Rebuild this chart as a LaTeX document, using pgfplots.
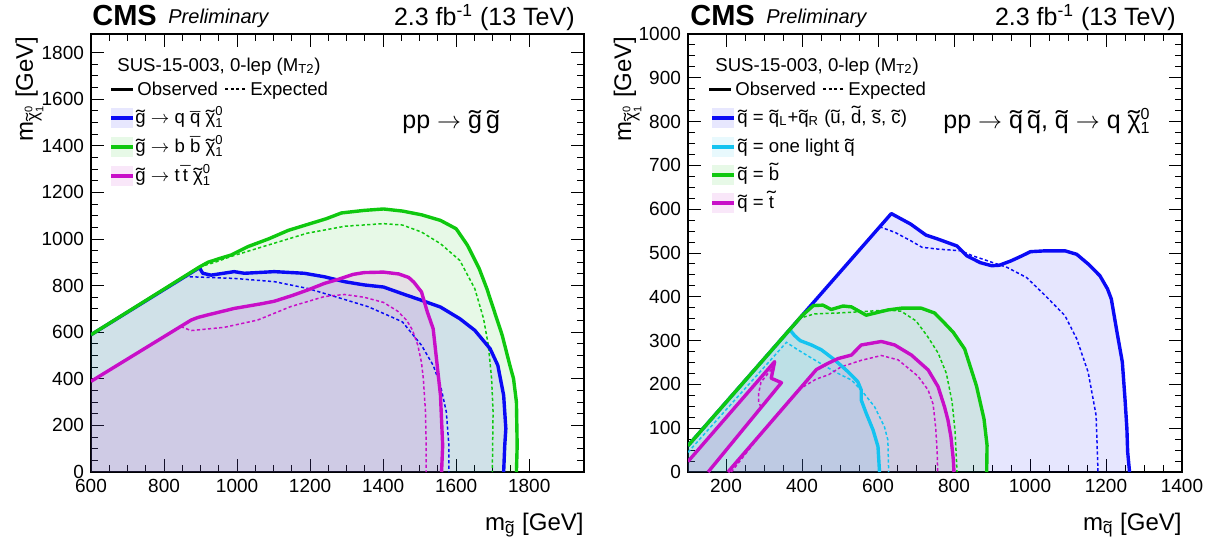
\documentclass[border=0pt]{standalone}
\usepackage{fontspec}
\setmainfont{Liberation Sans}
\usepackage{graphicx}
\usepackage{pgfplots}
\pgfplotsset{compat=1.18}
\definecolor{colB}{RGB}{10,10,245}
\definecolor{colG}{RGB}{15,200,15}
\definecolor{colM}{RGB}{200,15,200}
\definecolor{colC}{RGB}{20,195,240}
\newcommand\tg{\scalebox{1.45}[1]{\char"02DC}}
\newcommand\tl[1]{{\ooalign{#1\cr\hidewidth\tg\hidewidth\cr}}}
\newcommand\tlt[1]{{\ooalign{#1\cr\hidewidth\raisebox{0.2em}{\tg}\hidewidth\cr}}}
\newcommand\bq[1]{{\ooalign{#1\cr\hidewidth\raisebox{-0.12em}{\char"00AF}\hidewidth\cr}}}
\newcommand\bt[1]{{\ooalign{#1\cr\hidewidth\raisebox{0.1em}{\char"00AF}\hidewidth\cr}}}
\newcommand\ar{\ensuremath{\rightarrow}}
\newcommand\chiz[1]{\tl{χ}\ensuremath{^{\hbox{\fontsize{#1}{#1}\selectfont 0}}_{\hbox{\fontsize{#1}{#1}\selectfont 1}}}}
\newcommand\sbx[2]{\ensuremath{_{\hbox{\fontsize{#1}{#1}\selectfont #2}}}}
\pgfplotsset{cmsax/.style={scale only axis, ymin=0, tick align=inside,
  xtick pos=both, ytick pos=both, xticklabel pos=lower, yticklabel pos=left,
  major tick length=6.5pt, minor tick length=3.3pt,
  every tick/.append style={black, line width=0.5pt},
  axis line style={line width=0.8pt},
  tick label style={font=\fontsize{9.5}{9.5}\selectfont},
  /pgf/number format/assume math mode=true, /pgf/number format/1000 sep={},
  minor x tick num=3, minor y tick num=3, clip=true},
  obs/.style={line width=1.7pt, line join=round},
  exp/.style={line width=0.75pt, dash pattern=on 1.6pt off 1.2pt},
  fl/.style={draw=none, fill=#1, fill opacity=0.1}}
\begin{document}
\begin{tikzpicture}
\useasboundingbox (0,0) rectangle (603.5pt,274pt);
% ---------------- left panel ----------------
\begin{axis}[cmsax, at={(45.5pt,38pt)}, anchor=south west, width=246.5pt, height=219pt,
  xmin=600, xmax=1950, ymax=1880, xtick={600,800,...,1800}, ytick={0,200,...,1800}]
\addplot[fl=colG] coordinates {(600,589) (897,880) (920,900) (951,916) (983,931) (1029,967) (1087,1001) (1140,1037) (1192,1062) (1244,1087) (1286,1112) (1349,1123) (1401,1129) (1453,1120) (1505,1104) (1557,1080) (1600,1044) (1631,973) (1663,873) (1684,787) (1705,687) (1726,587) (1747,458) (1757,401) (1765,300) (1767,114) (1765,0)} \closedcycle;
\addplot[fl=colB] coordinates {(600,589) (897,877) (906,853) (929,845) (992,860) (1020,853) (1102,860) (1184,853) (1239,838) (1294,817) (1348,803) (1401,794) (1453,765) (1505,737) (1557,708) (1610,658) (1651,608) (1693,529) (1714,458) (1730,329) (1736,186) (1733,114) (1730,0)} \closedcycle;
\addplot[fl=colM] coordinates {(600,389) (874,652) (892,663) (919,674) (992,702) (1066,722) (1102,733) (1150,757) (1193,781) (1240,810) (1275,826) (1317,848) (1348,856) (1401,858) (1443,850) (1470,835) (1484,815) (1505,773) (1521,687) (1537,615) (1547,472) (1557,329) (1563,114) (1560,0)} \closedcycle;
% expected
\addplot[exp, colG] coordinates {(897,880) (941,901) (983,925) (1087,975) (1192,1025) (1296,1055) (1401,1066) (1453,1060) (1505,1030) (1557,980) (1610,908) (1651,787) (1675,658) (1688,544) (1697,401) (1701,258) (1699,0)};
\addplot[exp, colB] coordinates {(855,839) (992,831) (1102,817) (1193,788) (1285,745) (1358,710) (1421,667) (1453,644) (1505,544) (1537,458) (1557,372) (1573,258) (1580,114) (1580,0)};
\addplot[exp, colM] coordinates {(846,624) (874,607) (965,621) (1056,652) (1147,710) (1239,753) (1294,762) (1348,750) (1401,728) (1440,690) (1465,650) (1480,610) (1495,544) (1505,470) (1510,401) (1516,258) (1518,100) (1518,0)};
% observed
\addplot[obs, colB] coordinates {(600,589) (897,877) (906,853) (929,845) (992,860) (1020,853) (1102,860) (1184,853) (1239,838) (1294,817) (1348,803) (1401,794) (1453,765) (1505,737) (1557,708) (1610,658) (1651,608) (1693,529) (1714,458) (1730,329) (1736,186) (1733,114) (1730,0)};
\addplot[obs, colM] coordinates {(600,389) (874,652) (892,663) (919,674) (992,702) (1066,722) (1102,733) (1150,757) (1193,781) (1240,810) (1275,826) (1317,848) (1348,856) (1401,858) (1443,850) (1470,835) (1484,815) (1505,773) (1521,687) (1537,615) (1547,472) (1557,329) (1563,114) (1560,0)};
\addplot[obs, colG] coordinates {(600,589) (897,880) (920,900) (951,916) (983,931) (1029,967) (1087,1001) (1140,1037) (1192,1062) (1244,1087) (1286,1112) (1349,1123) (1401,1129) (1453,1120) (1505,1104) (1557,1080) (1600,1044) (1631,973) (1663,873) (1684,787) (1705,687) (1726,587) (1747,458) (1757,401) (1765,300) (1767,114) (1765,0)};
\end{axis}
% ---------------- right panel ----------------
\begin{axis}[cmsax, at={(344pt,38pt)}, anchor=south west, width=247pt, height=219pt,
  xmin=100, xmax=1400, ymax=1000, xtick={200,400,...,1400}, ytick={0,100,...,1000}]
\addplot[fl=colB] coordinates {(100,60) (635,590) (686,566) (726,541) (757,532) (808,516) (833,494) (869,478) (899,471) (919,472) (950,482) (980,494) (1001,503) (1041,505) (1092,505) (1123,497) (1153,475) (1184,448) (1204,418) (1214,395) (1229,319) (1243,251) (1250,167) (1255,99) (1257,46) (1262,0)} \closedcycle;
\addplot[fl=colG] coordinates {(100,60) (400,357) (430,380) (455,381) (477,371) (508,379) (530,377) (569,358) (626,370) (661,374) (714,374) (749,363) (775,340) (798,319) (828,281) (859,197) (879,121) (887,61) (886,0)} \closedcycle;
\addplot[fl=colC] coordinates {(100,60) (368,325) (380,312) (395,300) (425,290) (451,279) (486,256) (521,229) (547,206) (556,187) (556,164) (569,134) (587,96) (600,58) (604,0)} \closedcycle;
\addplot[fl=colM] coordinates {(100,24) (328,252) (319,214) (346,204) (153,0)} \closedcycle;
\addplot[fl=colM] coordinates {(205,0) (438,234) (468,248) (495,259) (530,267) (539,275) (556,290) (609,298) (644,290) (688,267) (732,233) (758,195) (775,149) (784,119) (792,80) (798,30) (800,0)} \closedcycle;
% expected
\addplot[exp, colB] coordinates {(604,560) (645,547) (686,528) (716,513) (757,509) (818,505) (848,494) (889,482) (940,467) (991,444) (1041,402) (1092,357) (1123,304) (1153,228) (1174,129) (1179,0)};
\addplot[exp, colG] coordinates {(390,350) (433,361) (495,363) (574,367) (626,370) (661,367) (700,345) (730,310) (758,272) (780,225) (795,160) (803,91) (808,0)};
\addplot[exp, colC] coordinates {(100,45) (359,296) (389,279) (433,256) (486,229) (530,210) (556,187) (591,149) (617,103) (626,73) (628,0)};
\addplot[exp, colM] coordinates {(214,0) (328,126) (389,187) (437,212) (470,222) (503,240) (556,255) (609,266) (653,256) (705,219) (732,187) (745,155) (752,100) (756,40) (757,0)};
\addplot[exp, colM] coordinates {(320,235) (292,205) (286,180) (286,160) (292,148)};
% observed
\addplot[obs, colB] coordinates {(100,60) (635,590) (686,566) (726,541) (757,532) (808,516) (833,494) (869,478) (899,471) (919,472) (950,482) (980,494) (1001,503) (1041,505) (1092,505) (1123,497) (1153,475) (1184,448) (1204,418) (1214,395) (1229,319) (1243,251) (1250,167) (1255,99) (1257,46) (1262,0)};
\addplot[obs, colC] coordinates {(100,60) (368,325) (380,312) (395,300) (425,290) (451,279) (486,256) (521,229) (547,206) (556,187) (556,164) (569,134) (587,96) (600,58) (604,0)};
\addplot[obs, colM] coordinates {(100,24) (328,252) (319,214) (346,204) (153,0)};
\addplot[obs, colM] coordinates {(205,0) (438,234) (468,248) (495,259) (530,267) (539,275) (556,290) (609,298) (644,290) (688,267) (732,233) (758,195) (775,149) (784,119) (792,80) (798,30) (800,0)};
\addplot[obs, colG] coordinates {(100,60) (400,357) (430,380) (455,381) (477,371) (508,379) (530,377) (569,358) (626,370) (661,374) (714,374) (749,363) (775,340) (798,319) (828,281) (859,197) (879,121) (887,61) (886,0)};
\end{axis}
% ---------------- texts and legends (pixel frame) ----------------
\begin{scope}[x=0.5pt, y=-0.5pt, yshift=274pt, every node/.style={inner sep=0pt}]
\foreach \dx/\lx/\ry in {0/575/33, 598/1176/631} {
  \node[anchor=base west, font=\fontsize{14.5}{14.5}\selectfont\bfseries] at (92+\dx,25) {CMS};
  \node[anchor=base west, font=\fontsize{10}{10}\selectfont\itshape] at (168+\dx,24) {Preliminary};
  \node[anchor=base east, font=\fontsize{12.5}{12.5}\selectfont] at (\lx,25) {2.3 fb\textsuperscript{-1} (13 TeV)};
  \node[rotate=90, anchor=base east, font=\fontsize{12}{12}\selectfont] at (\ry,36) {m\sbx{8.5}{\chiz{5.5}} [GeV]};
  \node[anchor=base west, font=\fontsize{9.3}{9.3}\selectfont] at (117+\dx,71) {SUS-15-003, 0-lep (M\textsubscript{T2})};
  \draw[line width=1.5pt] (111+\dx,89) -- (133+\dx,89);
  \node[anchor=base west, font=\fontsize{9.3}{9.3}\selectfont] at (137+\dx,95) {Observed};
  \draw[line width=0.75pt, dash pattern=on 1.6pt off 1.2pt] (225+\dx,89) -- (247+\dx,89);
  \node[anchor=base west, font=\fontsize{9.3}{9.3}\selectfont] at (250+\dx,95) {Expected};
}
\node[anchor=base east, font=\fontsize{12}{12}\selectfont] at (584,530) {m\sbx{8.5}{\tl{g}} [GeV]};
\node[anchor=base east, font=\fontsize{12}{12}\selectfont] at (1182,530) {m\sbx{8.5}{\tl{q}} [GeV]};
% left legend entries
\foreach \yy/\col in {118/colB, 147/colG, 176/colM} {
  \fill[\col!10] (111,\yy-10) rectangle (133,\yy+10);
  \draw[\col, line width=1.6pt] (111,\yy) -- (133,\yy);
}
\begin{scope}[every node/.append style={anchor=base west, font=\fontsize{9.3}{9.3}\selectfont}]
\node at (135,123) {\tl{g} \ar{} q \bq{q} \chiz{6.5}};
\node at (135,152) {\tl{g} \ar{} b \bt{b} \chiz{6.5}};
\node at (135,181) {\tl{g} \ar{} t\,\bt{t} \chiz{6.5}};
\end{scope}
\node[anchor=base west, font=\fontsize{12.5}{12.5}\selectfont] at (402,128) {pp \ar{} \tl{g}\,\tl{g}};
% right legend entries
\foreach \yy/\col in {118/colB, 147/colC, 175/colG, 203/colM} {
  \fill[\col!10] (712,\yy-10) rectangle (734,\yy+10);
  \draw[\col, line width=1.6pt] (712,\yy) -- (734,\yy);
}
\begin{scope}[every node/.append style={anchor=base west, font=\fontsize{9.3}{9.3}\selectfont}]
\node at (737,123) {\tl{q} = \tl{q}\sbx{6.5}{L}+\tl{q}\sbx{6.5}{R} (\tl{u}, \tlt{d}, \tl{s}, \tl{c})};
\node at (737,152) {\tl{q} = one light \tl{q}};
\node at (737,180) {\tl{q} = \tlt{b}};
\node at (737,208) {\tl{q} = \tlt{t}};
\end{scope}
\node[anchor=base west, font=\fontsize{12.5}{12.5}\selectfont] at (943,128) {pp \ar{} \tl{q}\,\tl{q}, \tl{q} \ar{} q \chiz{8}};
\end{scope}
\end{tikzpicture}
\end{document}
